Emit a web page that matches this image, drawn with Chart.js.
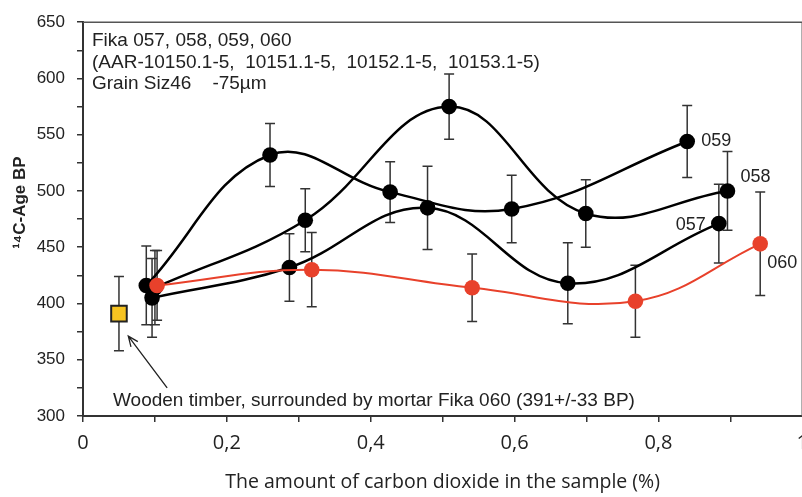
<!DOCTYPE html>
<html>
<head>
<meta charset="utf-8">
<script src="https://cdn.jsdelivr.net/npm/chart.js@4.4.1/dist/chart.umd.min.js"></script>
<style>
  html, body { margin: 0; padding: 0; background: #fff; overflow: hidden; }
  #wrap { width: 802px; height: 497px; overflow: hidden; }
</style>
</head>
<body>
<div id="wrap"><canvas id="ageChart" width="817" height="497"></canvas></div>
<script>
// CO2 fraction (%) vs 14C age, samples Fika 057-060
const x057 = [0.096, 0.287, 0.479, 0.674, 0.884];
const age057 = [405, 432, 485, 418, 471];
const err057 = [35, 30, 37, 36, 35];

const x058 = [0.100, 0.309, 0.509, 0.699, 0.896];
const age058 = [414, 474, 575, 480, 500];
const err058 = [33, 28, 29, 30, 35];

const x059 = [0.088, 0.260, 0.427, 0.596, 0.840];
const age059 = [416, 532, 499, 484, 544];
const err059 = [35, 28, 27, 30, 32];

const x060 = [0.103, 0.318, 0.541, 0.768, 0.9415];
const age060 = [416, 430, 414, 402, 453];
const err060 = [31, 33, 30, 32, 46];

const xTimber = [0.05];
const ageTimber = [391];
const errTimber = [33];

const headerLines = [
  "Fika 057, 058, 059, 060",
  "(AAR-10150.1-5,  10151.1-5,  10152.1-5,  10153.1-5)",
  "Grain Siz46    -75\u00b5m"
];
const timberNote = "Wooden timber, surrounded by mortar Fika 060 (391+/-33 BP)";
// arrow from the note to the timber sample, in data units
const arrowFrom = { x: 0.117, y: 325 };
const arrowTo = { x: 0.063, y: 371 };

const SANS = "'Liberation Sans', Arial, sans-serif";
const NARROW = "'Open Sans', sans-serif";

function pts(xs, ys) {
  return xs.map((x, i) => ({ x, y: ys[i] }));
}

function series(label, xs, ys, errs, color, width) {
  return {
    label, data: pts(xs, ys), errors: errs,
    borderColor: color, backgroundColor: color,
    borderWidth: width, pointRadius: 7.8, pointBorderWidth: 0,
    tension: 0.4, tag: label
  };
}

const errorBars = {
  id: "errorBars",
  beforeDatasetsDraw(chart) {
    const { ctx, scales: { x, y } } = chart;
    ctx.save();
    ctx.strokeStyle = "#333";
    ctx.lineWidth = 1.5;
    chart.data.datasets.forEach(ds => {
      ds.data.forEach((p, i) => {
        const e = ds.errors[i];
        const px = x.getPixelForValue(p.x);
        const top = y.getPixelForValue(p.y + e);
        const bot = y.getPixelForValue(p.y - e);
        ctx.beginPath();
        ctx.moveTo(px, top); ctx.lineTo(px, bot);
        ctx.moveTo(px - 5, top); ctx.lineTo(px + 5, top);
        ctx.moveTo(px - 5, bot); ctx.lineTo(px + 5, bot);
        ctx.stroke();
      });
    });
    ctx.restore();
  }
};

// label offsets from the last point of each series
const tagPos = {
  "059": { dx: 14, dy: 0, align: "left" },
  "058": { dx: 13, dy: -14, align: "left" },
  "057": { dx: -13, dy: 1, align: "right" },
  "060": { dx: 7, dy: 19, align: "left" }
};

const notes = {
  id: "notes",
  afterDraw(chart) {
    const { ctx, chartArea: a, scales: { x, y } } = chart;
    ctx.save();
    // frame top and right
    ctx.strokeStyle = "#555";
    ctx.lineWidth = 1.5;
    ctx.beginPath();
    ctx.moveTo(a.left, a.top); ctx.lineTo(a.right, a.top); ctx.lineTo(a.right, a.bottom);
    ctx.stroke();

    ctx.fillStyle = "#222";
    ctx.font = "19px " + SANS;
    ctx.textBaseline = "middle";
    ctx.textAlign = "left";
    headerLines.forEach((t, i) => ctx.fillText(t, a.left + 9, a.top + 19 + i * 21.5));
    ctx.fillText(timberNote, a.left + 30, a.bottom - 15);

    ctx.font = "18px " + SANS;
    chart.data.datasets.forEach(ds => {
      const p = tagPos[ds.tag];
      if (!p) return;
      const last = ds.data[ds.data.length - 1];
      ctx.textAlign = p.align;
      ctx.fillText(ds.tag, x.getPixelForValue(last.x) + p.dx, y.getPixelForValue(last.y) + p.dy);
    });

    // arrow
    const x1 = x.getPixelForValue(arrowFrom.x), y1 = y.getPixelForValue(arrowFrom.y);
    const x2 = x.getPixelForValue(arrowTo.x), y2 = y.getPixelForValue(arrowTo.y);
    const ang = Math.atan2(y2 - y1, x2 - x1);
    ctx.strokeStyle = "#222";
    ctx.lineWidth = 1.3;
    ctx.beginPath();
    ctx.moveTo(x1, y1); ctx.lineTo(x2, y2);
    ctx.moveTo(x2 - 11 * Math.cos(ang - 0.4), y2 - 11 * Math.sin(ang - 0.4));
    ctx.lineTo(x2, y2);
    ctx.lineTo(x2 - 11 * Math.cos(ang + 0.4), y2 - 11 * Math.sin(ang + 0.4));
    ctx.stroke();
    ctx.restore();
  }
};

new Chart(document.getElementById("ageChart"), {
  type: "line",
  data: {
    datasets: [
      series("060", x060, age060, err060, "#e8412b", 2),
      series("057", x057, age057, err057, "#000", 2.5),
      series("058", x058, age058, err058, "#000", 2.5),
      series("059", x059, age059, err059, "#000", 2.5),
      {
        label: "timber", data: pts(xTimber, ageTimber), errors: errTimber,
        showLine: false, pointStyle: "rect", pointRadius: 11,
        backgroundColor: "#f6c321", borderColor: "#222", pointBorderWidth: 2
      }
    ]
  },
  options: {
    responsive: false,
    animation: false,
    layout: { padding: { top: 20, right: 7, left: 0, bottom: 0 } },
    plugins: { legend: { display: false }, tooltip: { enabled: false } },
    scales: {
      x: {
        type: "linear", min: 0, max: 1,
        ticks: {
          stepSize: 0.1, autoSkip: false, maxRotation: 0, padding: 9, color: "#222",
          font: { family: NARROW, size: 20 },
          callback: v => Math.round(v * 10) % 2 === 0 ? String(Math.round(v * 10) / 10).replace(".", ",") : ""
        },
        grid: { drawOnChartArea: false, tickLength: 6, color: "#333", lineWidth: 1.5 },
        border: { color: "#333", width: 2 },
        title: {
          display: true, text: "The amount of carbon dioxide in the sample (%)", color: "#222",
          font: { family: NARROW, size: 19.5 }, padding: { top: 0, bottom: 3 }
        },
        afterFit: s => { s.height = 81; }
      },
      y: {
        min: 300, max: 650,
        ticks: {
          stepSize: 25, autoSkip: false, padding: 12, color: "#222",
          font: { family: SANS, size: 17 },
          callback: v => v % 50 === 0 ? v : ""
        },
        grid: { drawOnChartArea: false, tickLength: 6, color: "#333", lineWidth: 1.5 },
        border: { color: "#333", width: 2 },
        title: {
          display: true, text: " ".repeat(7) + "\u00b9\u2074C-Age BP", color: "#222",
          font: { family: SANS, size: 17, weight: "bold" }, padding: { top: 10 }
        },
        afterFit: s => { s.width = 83; }
      }
    }
  },
  plugins: [errorBars, notes]
});
</script>
</body>
</html>
